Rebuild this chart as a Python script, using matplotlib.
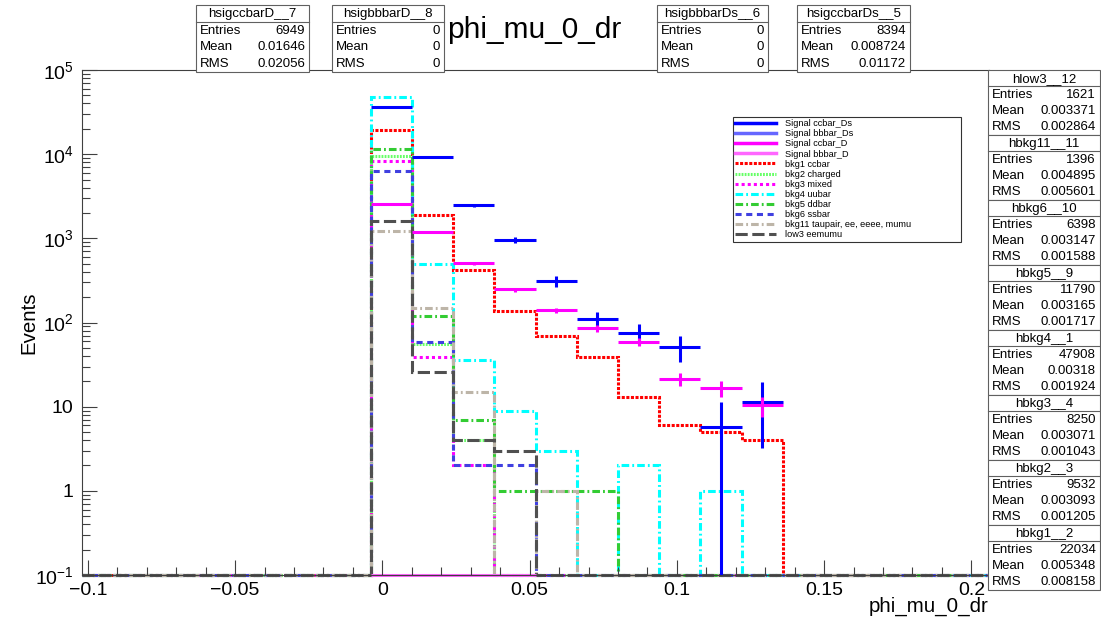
import numpy as np
import matplotlib.pyplot as plt
from matplotlib.lines import Line2D
from matplotlib.patches import Rectangle
from matplotlib.ticker import MultipleLocator, LogLocator, NullFormatter, FuncFormatter

plt.rcParams["font.family"] = ["Liberation Sans", "DejaVu Sans"]
plt.rcParams["mathtext.fontset"] = "custom"
plt.rcParams["mathtext.rm"] = "Liberation Sans"
plt.rcParams["mathtext.it"] = "Liberation Sans:italic"

# ----------------------------------------------------------------------------------------------
# Data (bins of 0.014 starting at -0.102)
# ----------------------------------------------------------------------------------------------
x_min, x_max, n_bins = -0.102, 0.206, 22
first_bin = 7  # first filled bin starts at -0.004
y_min, y_max = 0.1, 1e5

# signals drawn with error bars
sig_ccbar_Ds = [36300, 9290, 2470, 966, 310, 108.6, 75.4, 51.8, 5.67, 11.5]
sig_ccbar_Ds_err = [470, 236, 122, 76, 43, 25.5, 21, 17.6, 5.8, 8.3]
sig_ccbar_D = [2590, 1189, 504, 247, 139, 85.5, 59.4, 21.4, 16.5, 10.4]
sig_ccbar_D_err = [44, 30, 19.5, 13.5, 10.2, 8, 6.7, 4.0, 3.5, 2.8]
sig_bbbar_D = [0, 0, 0, 0]

# backgrounds drawn as histograms
bkg1_ccbar = [19470, 1880, 416, 136, 69, 39, 13, 6, 5, 4]
bkg2_charged = [9473, 55, 4]
bkg3_mixed = [8209, 39, 2]
bkg4_uubar = [47367, 490, 36, 9, 3, 0, 2, 0, 1]
bkg5_ddbar = [11661, 119, 7, 1, 1, 1]
bkg6_ssbar = [6336, 58, 2, 2]
bkg11_tau = [1232, 148, 15, 0, 1]
low3_eemumu = [1588, 26, 4, 3]

# stat boxes
top_names = ["hsigccbarD__7", "hsigbbbarD__8", "hsigbbbarDs__6", "hsigccbarDs__5"]
top_entries = ["6949", "0", "0", "8394"]
top_means = ["0.01646", "0", "0", "0.008724"]
top_rms = ["0.02056", "0", "0", "0.01172"]
right_names = ["hlow3__12", "hbkg11__11", "hbkg6__10", "hbkg5__9",
               "hbkg4__1", "hbkg3__4", "hbkg2__3", "hbkg1__2"]
right_entries = ["1621", "1396", "6398", "11790", "47908", "8250", "9532", "22034"]
right_means = ["0.003371", "0.004895", "0.003147", "0.003165",
               "0.00318", "0.003071", "0.003093", "0.005348"]
right_rms = ["0.002864", "0.005601", "0.001588", "0.001717",
             "0.001924", "0.001043", "0.001205", "0.008158"]

# ----------------------------------------------------------------------------------------------
edges = np.linspace(x_min, x_max, n_bins + 1)
centers = 0.5 * (edges[:-1] + edges[1:])
half_w = 0.5 * (edges[1] - edges[0])


def full(vals):
    arr = np.zeros(n_bins)
    arr[first_bin:first_bin + len(vals)] = vals
    return np.where(arr > 0, arr, y_min)


W, H = 1101, 622
fig = plt.figure(figsize=(W / 100, H / 100), dpi=100)
ax = fig.add_axes([82 / W, 1 - 575 / H, (989 - 82) / W, (575 - 70) / H])
ax.set_yscale("log", nonpositive="clip")
ax.set_xlim(x_min, x_max)
ax.set_ylim(y_min, y_max)

lw = 2.2
bkgs = [
    (bkg1_ccbar, "#ff0000", (1.0, 0.5), "bkg1 ccbar"),
    (bkg2_charged, "#66ff66", (0.6, 0.4), "bkg2 charged"),
    (bkg3_mixed, "#ff00ff", (1.0, 1.0), "bkg3 mixed"),
    (bkg4_uubar, "#00ffff", (2.5, 1.0, 0.6, 1.0), "bkg4 uubar"),
    (bkg5_ddbar, "#33cc33", (2.5, 1.0, 0.6, 1.0), "bkg5 ddbar"),
    (bkg6_ssbar, "#4040e0", (2.0, 1.5), "bkg6 ssbar"),
    (bkg11_tau, "#bdb5a8", (2.5, 1.0, 0.6, 1.0), "bkg11 taupair, ee, eeee, mumu"),
    (low3_eemumu, "#505050", (4.0, 1.5), "low3 eemumu"),
]
bkg_handles = []
for vals, col, dash, lab in bkgs:
    ax.stairs(full(vals), edges, baseline=None, color=col, lw=lw,
              linestyle=(0, dash), clip_on=False)
    bkg_handles.append(Line2D([], [], color=col, lw=lw, linestyle=(0, dash)))

# signals
for vals, errs, col in [(sig_ccbar_Ds, sig_ccbar_Ds_err, "#0000ff"),
                        (sig_ccbar_D, sig_ccbar_D_err, "#ff00ff")]:
    xs = centers[first_bin:first_bin + len(vals)]
    ax.errorbar(xs, vals, xerr=half_w, yerr=errs, fmt="none", ecolor=col,
                elinewidth=2.2, capsize=0)

# empty bbbar_D signal sits on the floor
bb_vals = np.array(sig_bbbar_D, float)
bb_vals = np.where(bb_vals > 0, bb_vals, y_min)
bb_edges = edges[first_bin:first_bin + len(sig_bbbar_D) + 1]
ax.stairs(bb_vals, bb_edges, baseline=None, color="#ff66ff", lw=lw, clip_on=False)

sig_handles = [Line2D([], [], color=c, lw=2.5)
               for c in ["#0000ff", "#6666ff", "#ff00ff", "#ff66ff"]]
labels = ["Signal ccbar_Ds", "Signal bbbar_Ds", "Signal ccbar_D", "Signal bbbar_D"] + \
         [b[3] for b in bkgs]
leg = ax.legend(sig_handles + bkg_handles, labels, loc="upper left",
                bbox_to_anchor=(733 / W, 1 - 117 / H - 0.01, (961 - 733) / W, 0.01),
                bbox_transform=fig.transFigure, mode="expand",
                fontsize=6.6, frameon=True, fancybox=False, edgecolor="black",
                handlelength=4.4, handletextpad=1.0, labelspacing=0.12,
                borderpad=0.25, borderaxespad=0)
leg.get_frame().set_linewidth(0.8)

# axes styling
for s in ax.spines.values():
    s.set_color("#404040")
    s.set_linewidth(0.8)
ax.xaxis.set_major_locator(MultipleLocator(0.05))
ax.xaxis.set_minor_locator(MultipleLocator(0.01))


def xfmt(v, _):
    s = f"{round(v, 4):g}"
    if s in ("-0", "0"):
        return "0"
    return s.replace("-", "\u2212")


ax.xaxis.set_major_formatter(FuncFormatter(xfmt))
yt = [0.1, 1, 10, 100, 1e3, 1e4, 1e5]
ax.set_yticks(yt, ["$10^{-1}$", "1", "10", "$10^{2}$", "$10^{3}$", "$10^{4}$", "$10^{5}$"])
ax.yaxis.set_minor_locator(LogLocator(base=10, subs=np.arange(2, 10)))
ax.yaxis.set_minor_formatter(NullFormatter())
ax.tick_params(which="both", direction="in", top=False, right=False,
               color="#404040", width=0.8, labelsize=14)
ax.tick_params(which="major", length=11)
ax.tick_params(which="minor", length=5.5)
ax.tick_params(axis="x", pad=5)
ax.tick_params(axis="y", pad=6)

ax.set_ylabel("Events", fontsize=14.8)
ax.yaxis.set_label_coords(-0.048, 0.5)
ax.set_xlabel("phi_mu_0_dr", fontsize=14.8, loc="right")
ax.xaxis.set_label_coords(1.0, -0.043)

# ----------------------------------------------------------------------------------------------
# Overlay in pixel coordinates for the title and stat boxes
# ----------------------------------------------------------------------------------------------
ov = fig.add_axes([0, 0, 1, 1], zorder=5)
ov.set_xlim(0, W)
ov.set_ylim(H, 0)
ov.axis("off")
ov.patch.set_alpha(0)


def stat_box(x0, y0, w, h, name, entries, mean, rms):
    row = h / 4
    ov.add_patch(Rectangle((x0, y0), w, h, facecolor="white", edgecolor="#606060", lw=0.8))
    ov.plot([x0, x0 + w], [y0 + row] * 2, color="#606060", lw=0.8)
    ov.text(x0 + w / 2, y0 + row / 2 + 0.5, name, ha="center", va="center", fontsize=9.5)
    for i, (lab, val) in enumerate(zip(["Entries", "Mean", "RMS"], [entries, mean, rms])):
        yy = y0 + row * (i + 1.5) + 0.5
        ov.text(x0 + 4, yy, lab, ha="left", va="center", fontsize=9.5)
        ov.text(x0 + w - 4, yy, val, ha="right", va="center", fontsize=9.5)


top_x = [196, 332, 657, 797]
top_w = [113, 112, 111, 113]
for i in range(4):
    stat_box(top_x[i], 5, top_w[i], 67, top_names[i], top_entries[i], top_means[i], top_rms[i])
for i in range(8):
    stat_box(988, 70 + 65 * i, 112, 65, right_names[i], right_entries[i],
             right_means[i], right_rms[i])

ov.text(534, 30, "phi_mu_0_dr", ha="center", va="center", fontsize=21.5)

fig.savefig("out.png", dpi=100)
